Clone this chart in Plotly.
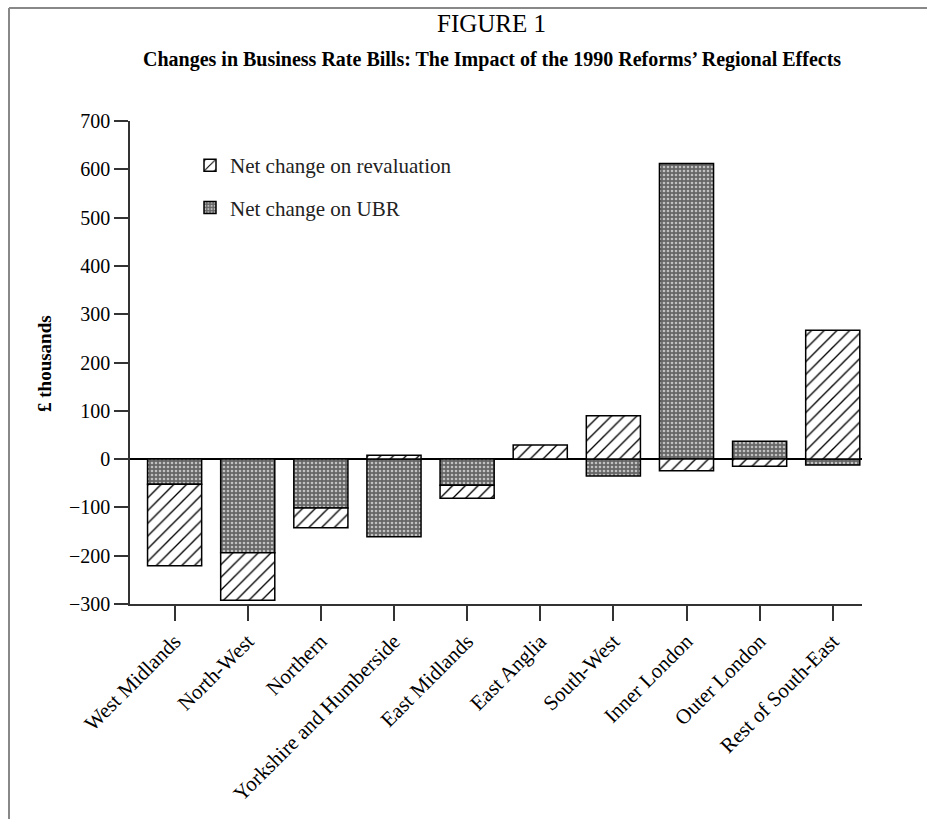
import plotly.graph_objects as go

regions = ["West Midlands", "North-West", "Northern", "Yorkshire and Humberside",
           "East Midlands", "East Anglia", "South-West", "Inner London",
           "Outer London", "Rest of South-East"]
ubr = [-52, -194, -101, -161, -54, 0, -35, 612, 37, -12]
revaluation = [-169, -98, -41, 8, -27, 29, 90, -24, -15, 267]
y_ticks = [-300, -200, -100, 0, 100, 200, 300, 400, 500, 600, 700]
y_tick_text = ["\u2212300", "\u2212200", "\u2212100", "0", "100", "200", "300",
               "400", "500", "600", "700"]

FONT = "Liberation Serif"
L, R, T, B = 130, 65, 121, 215
W, H = 927, 819
PW, PH = W - L - R, H - T - B


def px(x):
    return (x - L) / PW


def py(y):
    return (H - B - y) / PH


fig = go.Figure()
fig.add_trace(go.Bar(
    x=regions, y=ubr, name="Net change on UBR", width=0.74,
    legendgroup="ubr", legendrank=2,
    marker=dict(color="#707070",
                pattern=dict(shape=".", fgcolor="#c0c0c0", bgcolor="#666666",
                             size=4, solidity=0.35, fillmode="replace"),
                line=dict(color="black", width=1.5)),
))
fig.add_trace(go.Bar(
    x=regions, y=revaluation, name="Net change on revaluation", width=0.74,
    legendgroup="rev", legendrank=1,
    marker=dict(color="white",
                pattern=dict(shape="/", fgcolor="black", bgcolor="white",
                             size=9, solidity=0.15, fillmode="replace"),
                line=dict(color="black", width=1.5)),
))

fig.update_layout(
    width=W, height=H,
    barmode="relative",
    paper_bgcolor="white", plot_bgcolor="white",
    margin=dict(l=L, r=R, t=T, b=B, autoexpand=False),
    font=dict(family=FONT, size=18, color="black"),
    showlegend=True,
    legend=dict(x=px(190), y=py(145), xanchor="left", yanchor="top",
                font=dict(family=FONT, size=21, color="#222"),
                bgcolor="rgba(0,0,0,0)", tracegroupgap=12,
                traceorder="grouped"),
    annotations=[
        dict(text="FIGURE 1", xref="paper", yref="paper", x=px(491),
             y=py(23), xanchor="center", yanchor="middle",
             showarrow=False, font=dict(family=FONT, size=25)),
        dict(text="<b>Changes in Business Rate Bills: The Impact of the 1990 Reforms\u2019 Regional Effects</b>",
             xref="paper", yref="paper", x=px(492), y=py(60),
             xanchor="center", yanchor="middle",
             showarrow=False, font=dict(family=FONT, size=20)),
        dict(text="<b>\u00a3 thousands</b>", xref="paper", yref="paper",
             x=px(44), y=py(364), textangle=-90,
             xanchor="center", yanchor="middle", showarrow=False,
             font=dict(family=FONT, size=19)),
    ],
    shapes=[
        dict(type="line", xref="paper", yref="paper",
             x0=px(9), x1=px(927), y0=py(8), y1=py(8),
             line=dict(color="#888", width=2)),
        dict(type="line", xref="paper", yref="paper",
             x0=px(9), x1=px(9), y0=py(8), y1=py(830),
             line=dict(color="#888", width=2)),
    ],
)

fig.update_xaxes(
    range=[-0.61, 9.4], showline=True, linecolor="#333", linewidth=1.5,
    ticks="outside", ticklen=15, tickcolor="#333", tickwidth=1.5,
    tickangle=-45, tickfont=dict(family=FONT, size=21),
    showgrid=False, zeroline=False, automargin=False,
)
fig.update_yaxes(
    range=[-300, 700], tickvals=y_ticks, ticktext=y_tick_text,
    showline=True, linecolor="#333", linewidth=1.5,
    ticks="outside", ticklen=14, tickcolor="#333", tickwidth=1.5,
    tickfont=dict(family=FONT, size=20),
    showgrid=False, zeroline=True, zerolinecolor="black", zerolinewidth=1.5,
    automargin=False,
)

fig.write_html("out.html", config={"displayModeBar": False},
               post_script="document.body.style.margin='0';document.body.style.overflow='hidden';")
